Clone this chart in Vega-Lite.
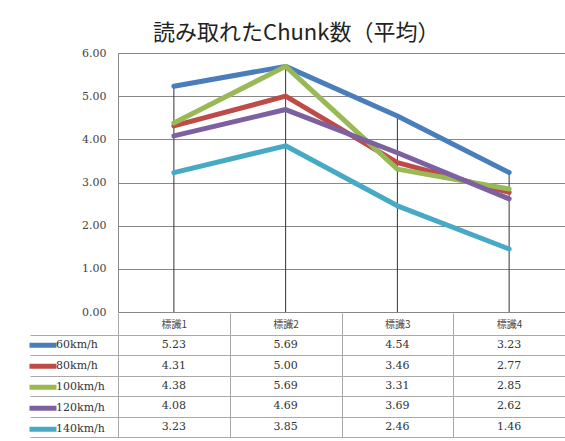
{
  "$schema": "https://vega.github.io/schema/vega-lite/v6.json",
  "padding": {"left": 26, "top": 21, "right": 0, "bottom": 0},
  "background": "white",
  "title": {"text": "読み取れたChunk数（平均）", "font": "Noto Sans CJK JP", "fontSize": 22, "fontWeight": "normal", "color": "#222", "anchor": "middle", "offset": 2},
  "data": {"values": [
    {"series": "60km/h", "sign": "標識1", "value": 5.23},
    {"series": "60km/h", "sign": "標識2", "value": 5.69},
    {"series": "60km/h", "sign": "標識3", "value": 4.54},
    {"series": "60km/h", "sign": "標識4", "value": 3.23},
    {"series": "80km/h", "sign": "標識1", "value": 4.31},
    {"series": "80km/h", "sign": "標識2", "value": 5.00},
    {"series": "80km/h", "sign": "標識3", "value": 3.46},
    {"series": "80km/h", "sign": "標識4", "value": 2.77},
    {"series": "100km/h", "sign": "標識1", "value": 4.38},
    {"series": "100km/h", "sign": "標識2", "value": 5.69},
    {"series": "100km/h", "sign": "標識3", "value": 3.31},
    {"series": "100km/h", "sign": "標識4", "value": 2.85},
    {"series": "120km/h", "sign": "標識1", "value": 4.08},
    {"series": "120km/h", "sign": "標識2", "value": 4.69},
    {"series": "120km/h", "sign": "標識3", "value": 3.69},
    {"series": "120km/h", "sign": "標識4", "value": 2.62},
    {"series": "140km/h", "sign": "標識1", "value": 3.23},
    {"series": "140km/h", "sign": "標識2", "value": 3.85},
    {"series": "140km/h", "sign": "標識3", "value": 2.46},
    {"series": "140km/h", "sign": "標識4", "value": 1.46}
  ]},
  "bounds": "flush",
  "spacing": 23,
  "resolve": {"scale": {"color": "independent", "x": "independent", "y": "independent"}, "legend": {"color": "independent"}},
  "vconcat": [
    {
      "width": 447,
      "height": 259,
      "layer": [
        {
          "mark": {"type": "rule", "color": "#333", "strokeWidth": 1},
          "encoding": {
            "x": {"field": "sign", "type": "nominal", "scale": {"paddingInner": 0, "paddingOuter": 0}, "axis": null},
            "y": {"aggregate": "max", "field": "value", "type": "quantitative"},
            "y2": {"datum": 0}
          }
        },
        {
          "mark": {"type": "line", "strokeWidth": 5, "strokeCap": "round", "strokeJoin": "round"},
          "encoding": {
            "x": {"field": "sign", "type": "nominal", "scale": {"paddingInner": 0, "paddingOuter": 0}, "axis": null},
            "y": {"field": "value", "type": "quantitative", "scale": {"domain": [0, 6]},
              "axis": {"title": null, "values": [0, 1, 2, 3, 4, 5, 6], "format": ".2f", "labelFont": "DejaVu Serif", "labelFontSize": 11, "labelColor": "#444", "ticks": false, "labelPadding": 12, "domainColor": "#888", "gridColor": "#888", "gridOpacity": 1}},
            "color": {"field": "series", "type": "nominal",
              "scale": {"domain": ["60km/h", "80km/h", "100km/h", "120km/h", "140km/h"], "range": ["#4a7ebb", "#be4b48", "#98b954", "#7d60a0", "#46aac5"]},
              "legend": null}
          }
        }
      ]
    },
    {
      "width": 447,
      "height": 102,
      "resolve": {"axis": {"y": "independent"}},
      "encoding": {
        "x": {"field": "sign", "type": "nominal", "scale": {"paddingInner": 0, "paddingOuter": 0},
          "axis": {"orient": "top", "title": null, "labelAngle": 0, "labelFont": "Noto Sans CJK JP", "labelFontSize": 10, "labelColor": "#444", "labelBaseline": "middle", "labelPadding": -11, "tickBand": "extent", "tickSize": 22, "tickColor": "#aaa", "domainColor": "#aaa", "grid": true, "gridColor": "#aaa", "gridOpacity": 1}}
      },
      "layer": [
        {
          "mark": {"type": "point", "opacity": 0},
          "encoding": {
            "y": {"field": "series", "type": "nominal", "sort": ["60km/h", "80km/h", "100km/h", "120km/h", "140km/h"], "scale": {"paddingInner": 0, "paddingOuter": 0},
              "axis": {"orient": "left", "title": null, "labels": false, "tickBand": "extent", "tickSize": 88, "tickColor": "#aaa", "domainColor": "#aaa", "grid": true, "gridColor": "#aaa", "gridOpacity": 1}},
            "color": {"field": "series", "type": "nominal",
              "scale": {"domain": ["60km/h", "80km/h", "100km/h", "120km/h", "140km/h"], "range": ["#4a7ebb", "#be4b48", "#98b954", "#7d60a0", "#46aac5"]},
              "legend": {"orient": "left", "title": null, "offset": -76, "padding": 0, "symbolType": "stroke", "symbolSize": 729, "symbolStrokeWidth": 5, "symbolOpacity": 1, "clipHeight": 20.4, "rowPadding": 0, "labelFont": "DejaVu Serif", "labelFontSize": 11, "labelColor": "#333", "labelOffset": -3}}
          }
        },
        {
          "mark": {"type": "text", "font": "DejaVu Serif", "fontSize": 11, "color": "#333"},
          "encoding": {
            "y": {"field": "series", "type": "nominal", "sort": ["60km/h", "80km/h", "100km/h", "120km/h", "140km/h"], "scale": {"paddingInner": 0, "paddingOuter": 0},
              "axis": {"orient": "left", "title": null, "labels": false, "ticks": false, "grid": false, "domain": true, "domainColor": "#aaa", "offset": 0}},
            "text": {"field": "value", "type": "quantitative", "format": ".2f"}
          }
        }
      ]
    }
  ],
  "config": {"view": {"stroke": "#888"}}
}
